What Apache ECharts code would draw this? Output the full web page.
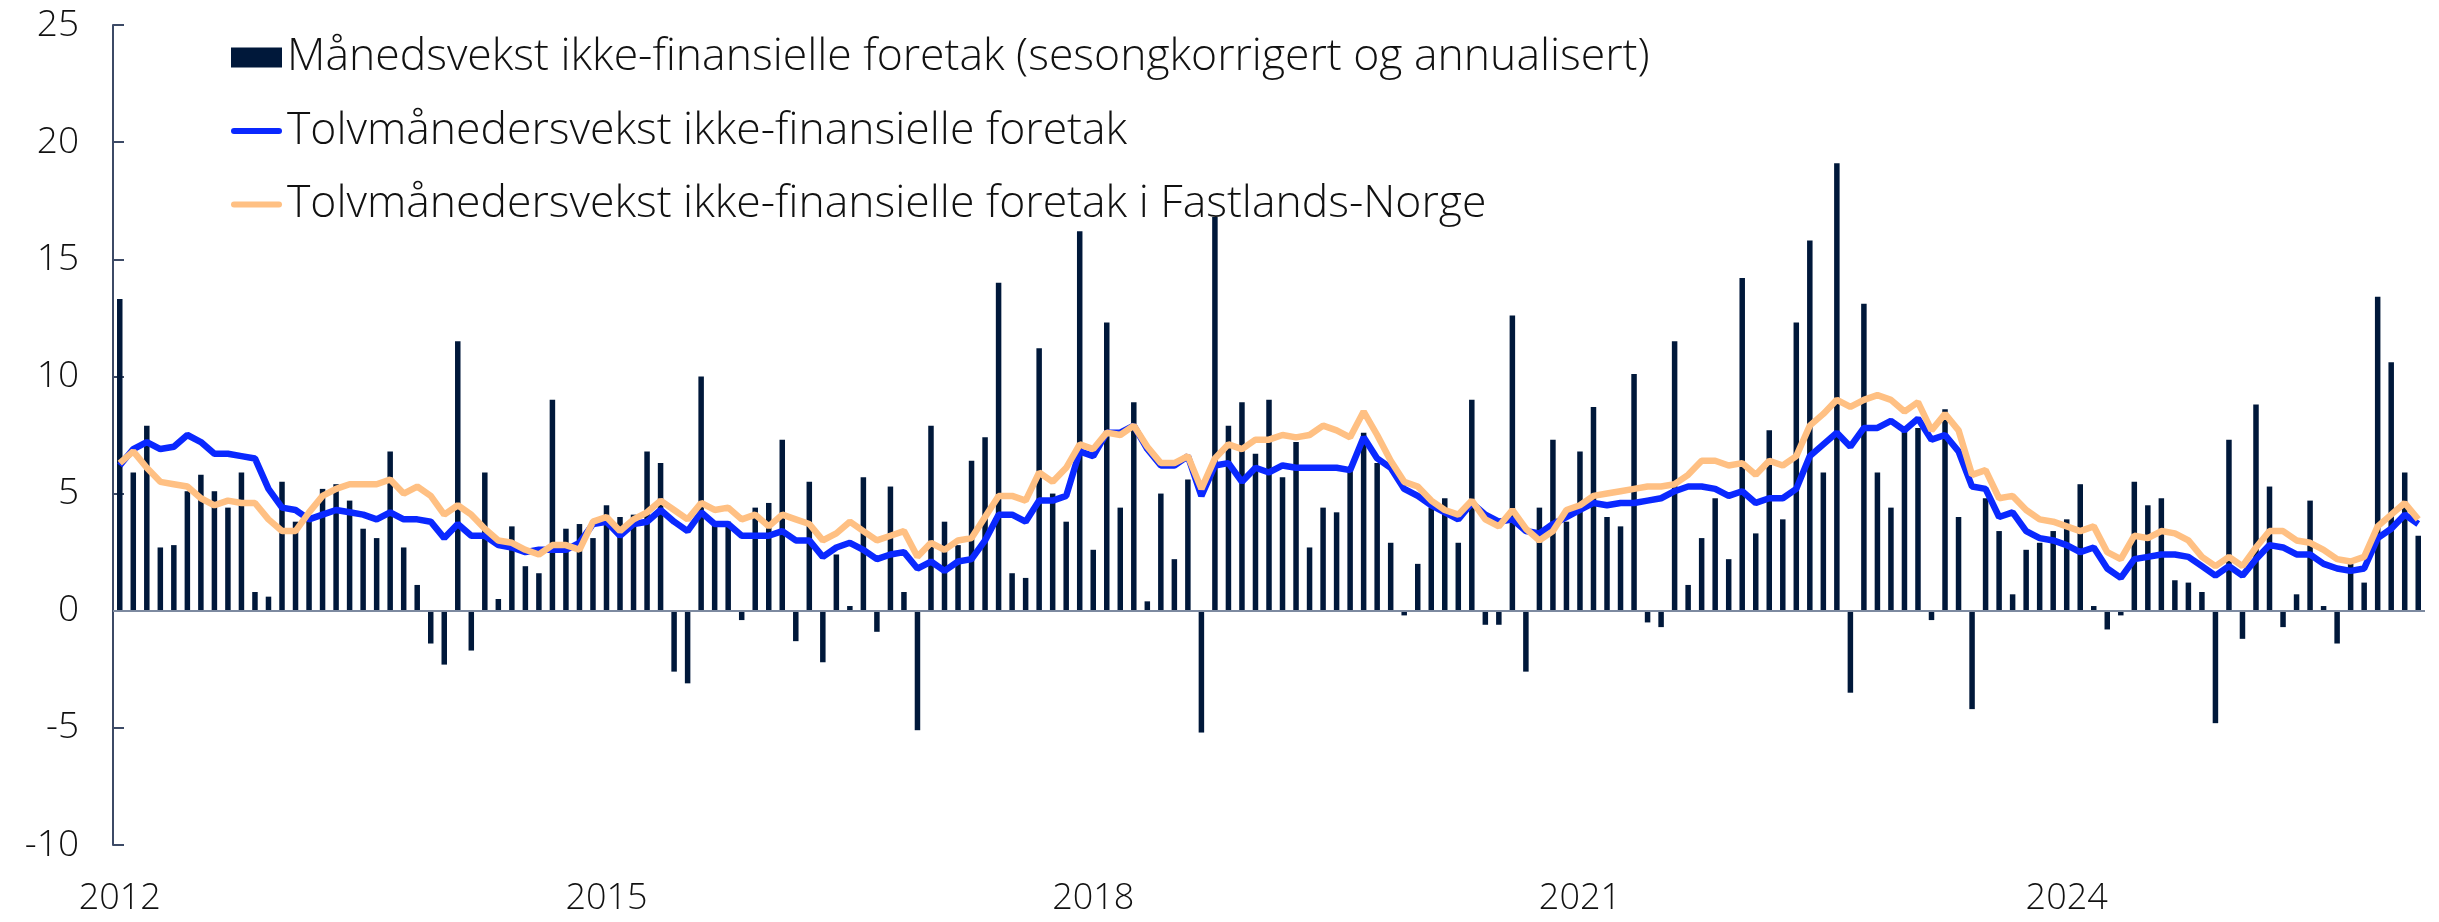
<!DOCTYPE html>
<html>
<head>
<meta charset="utf-8">
<script src="https://cdn.jsdelivr.net/npm/echarts@6/dist/echarts.min.js"></script>
<style>
  html, body { margin: 0; padding: 0; background: #fff; }
  #chart { width: 2439px; height: 922px; }
</style>
</head>
<body>
<div id="chart"></div>
<script>
// months 2012-01 .. 2026-03
const startYear = 2012;
const monthCount = 171;
const yearLabels = ['2012', '2015', '2018', '2021', '2024'];

const monthly = [
  13.3, 5.9, 7.9, 2.7, 2.8, 5.1, 5.8, 5.1, 4.4, 5.9, 0.8, 0.6, 5.5, 3.8, 4.0, 5.2, 5.4, 4.7, 3.5, 3.1, 6.8, 2.7, 1.1, -1.4, -2.3, 11.5, -1.7, 5.9, 0.5,
  3.6, 1.9, 1.6, 9.0, 3.5, 3.7, 3.1, 4.5, 4.0, 4.1, 6.8, 6.3, -2.6, -3.1, 10.0, 3.8, 3.8, -0.4, 4.4, 4.6, 7.3, -1.3, 5.5, -2.2, 2.4, 0.2, 5.7, -0.9,
  5.3, 0.8, -5.1, 7.9, 3.8, 2.8, 6.4, 7.4, 14.0, 1.6, 1.4, 11.2, 5.0, 3.8, 16.2, 2.6, 12.3, 4.4, 8.9, 0.4, 5.0, 2.2, 5.6, -5.2, 16.8, 7.9, 8.9, 6.7,
  9.0, 5.7, 7.2, 2.7, 4.4, 4.2, 6.0, 7.6, 6.3, 2.9, -0.2, 2.0, 4.4, 4.8, 2.9, 9.0, -0.6, -0.6, 12.6, -2.6, 4.4, 7.3, 3.8, 6.8, 8.7, 4.0, 3.6, 10.1,
  -0.5, -0.7, 11.5, 1.1, 3.1, 4.8, 2.2, 14.2, 3.3, 7.7, 3.9, 12.3, 15.8, 5.9, 19.1, -3.5, 13.1, 5.9, 4.4, 7.7, 7.8, -0.4, 8.6, 4.0, -4.2, 4.8, 3.4, 0.7,
  2.6, 2.9, 3.4, 3.9, 5.4, 0.2, -0.8, -0.2, 5.5, 4.5, 4.8, 1.3, 1.2, 0.8, -4.8, 7.3, -1.2, 8.8, 5.3, -0.7, 0.7, 4.7, 0.2, -1.4, 2.0, 1.2, 13.4, 10.6, 5.9, 3.2
];

const twelveMonth = [
  6.2, 6.9, 7.2, 6.9, 7.0, 7.5, 7.2, 6.7, 6.7, 6.6, 6.5, 5.2, 4.4, 4.3, 3.9, 4.1, 4.3, 4.2, 4.1, 3.9, 4.2, 3.9, 3.9, 3.8, 3.1, 3.7, 3.2, 3.2, 2.8,
  2.7, 2.5, 2.6, 2.6, 2.6, 2.9, 3.7, 3.8, 3.2, 3.7, 3.8, 4.3, 3.8, 3.4, 4.2, 3.7, 3.7, 3.2, 3.2, 3.2, 3.4, 3.0, 3.0, 2.3, 2.7, 2.9, 2.6, 2.2,
  2.4, 2.5, 1.8, 2.1, 1.7, 2.1, 2.2, 3.0, 4.1, 4.1, 3.8, 4.7, 4.7, 4.9, 6.8, 6.6, 7.6, 7.6, 7.9, 6.9, 6.2, 6.2, 6.6, 4.9, 6.2, 6.3, 5.5, 6.1,
  5.9, 6.2, 6.1, 6.1, 6.1, 6.1, 6.0, 7.4, 6.5, 6.1, 5.2, 4.9, 4.5, 4.2, 3.9, 4.6, 4.1, 3.8, 3.9, 3.4, 3.3, 3.7, 4.0, 4.3, 4.6, 4.5, 4.6, 4.6,
  4.7, 4.8, 5.1, 5.3, 5.3, 5.2, 4.9, 5.1, 4.6, 4.8, 4.8, 5.2, 6.6, 7.1, 7.6, 7.0, 7.8, 7.8, 8.1, 7.7, 8.2, 7.3, 7.5, 6.8, 5.3, 5.2, 4.0, 4.2,
  3.4, 3.1, 3.0, 2.8, 2.5, 2.7, 1.8, 1.4, 2.2, 2.3, 2.4, 2.4, 2.3, 1.9, 1.5, 1.9, 1.5, 2.2, 2.8, 2.7, 2.4, 2.4, 2.0, 1.8, 1.7, 1.8, 3.1, 3.5, 4.1, 3.7
];

const twelveMonthMainland = [
  6.3, 6.8, 6.1, 5.5, 5.4, 5.3, 4.8, 4.5, 4.7, 4.6, 4.6, 3.9, 3.4, 3.4, 4.2, 4.9, 5.2, 5.4, 5.4, 5.4, 5.6, 5.0, 5.3, 4.9, 4.1, 4.5, 4.1, 3.5, 3.0,
  2.9, 2.6, 2.4, 2.8, 2.8, 2.6, 3.8, 4.0, 3.4, 3.9, 4.2, 4.7, 4.3, 3.9, 4.6, 4.3, 4.4, 3.9, 4.1, 3.6, 4.1, 3.9, 3.7, 3.0, 3.3, 3.8, 3.4, 3.0,
  3.2, 3.4, 2.3, 2.9, 2.6, 3.0, 3.1, 4.0, 4.9, 4.9, 4.7, 5.9, 5.5, 6.1, 7.1, 6.9, 7.6, 7.5, 7.9, 7.0, 6.3, 6.3, 6.6, 5.2, 6.5, 7.1, 6.9, 7.3,
  7.3, 7.5, 7.4, 7.5, 7.9, 7.7, 7.4, 8.5, 7.5, 6.4, 5.5, 5.3, 4.7, 4.3, 4.1, 4.7, 3.9, 3.6, 4.3, 3.5, 3.0, 3.4, 4.3, 4.5, 4.9, 5.0, 5.1, 5.2,
  5.3, 5.3, 5.4, 5.8, 6.4, 6.4, 6.2, 6.3, 5.8, 6.4, 6.2, 6.6, 7.9, 8.4, 9.0, 8.7, 9.0, 9.2, 9.0, 8.5, 8.9, 7.7, 8.4, 7.7, 5.8, 6.0, 4.8, 4.9,
  4.3, 3.9, 3.8, 3.6, 3.4, 3.6, 2.5, 2.2, 3.2, 3.1, 3.4, 3.3, 3.0, 2.3, 1.9, 2.3, 1.9, 2.7, 3.4, 3.4, 3.0, 2.9, 2.6, 2.2, 2.1, 2.3, 3.6, 4.1, 4.6, 3.9
];

const months = [];
for (let i = 0; i < monthCount; i++) {
  const y = startYear + Math.floor(i / 12);
  const m = (i % 12) + 1;
  months.push(y + '-' + (m < 10 ? '0' + m : m));
}

const names = [
  'Månedsvekst ikke-finansielle foretak (sesongkorrigert og annualisert)',
  'Tolvmånedersvekst ikke-finansielle foretak',
  'Tolvmånedersvekst ikke-finansielle foretak i Fastlands-Norge'
];

const font = '"Open Sans", Lato, sans-serif';
// thick line with round ends for the legend
const lineIcon = 'path://M3,0 L48,0 A3,3 0 0 1 48,6 L3,6 A3,3 0 0 1 3,0 Z';

var dom = document.querySelector('#chart');
var myChart = echarts.init(dom, null, { renderer: 'canvas' });

const option = {
  animation: false,
  backgroundColor: '#fff',
  textStyle: { fontFamily: font, fontWeight: 300 },
  grid: { left: 113, right: 14, top: 25, bottom: 77 },
  legend: {
    orient: 'vertical',
    left: 226,
    top: 30,
    itemWidth: 51,
    itemHeight: 20,
    itemGap: 28.5,
    textStyle: { fontSize: 44.5, color: '#111', fontFamily: font, fontWeight: 300 },
    data: [
      { name: names[0], icon: 'rect' },
      { name: names[1], icon: lineIcon },
      { name: names[2], icon: lineIcon }
    ]
  },
  xAxis: {
    type: 'category',
    data: months,
    boundaryGap: true,
    axisLine: { show: false },
    axisTick: { show: false },
    axisLabel: {
      interval: (i) => i % 36 === 0,
      formatter: (v) => {
        const y = v.slice(0, 4);
        return yearLabels.indexOf(y) >= 0 ? y : '';
      },
      fontSize: 36,
      fontWeight: 300,
      color: '#111',
      margin: 36
    },
    splitLine: { show: false }
  },
  yAxis: {
    type: 'value',
    min: -10,
    max: 25,
    interval: 5,
    axisLine: { show: true, lineStyle: { color: '#3c4a66', width: 2 } },
    axisTick: { show: true, inside: true, length: 11, lineStyle: { color: '#3c4a66', width: 2 } },
    axisLabel: { fontSize: 37, fontWeight: 300, color: '#111', margin: 34 },
    splitLine: { show: false }
  },
  series: [
    {
      name: names[0],
      type: 'bar',
      data: monthly,
      barWidth: 5.5,
      itemStyle: { color: '#00183a' },
      markLine: {
        silent: true,
        symbol: 'none',
        label: { show: false },
        lineStyle: { color: '#7d8aa0', width: 2, type: 'solid' },
        data: [{ yAxis: 0 }]
      },
      z: 1
    },
    {
      name: names[1],
      type: 'line',
      data: twelveMonth,
      symbol: 'none',
      lineStyle: { color: '#0a28ff', width: 6.5 },
      itemStyle: { color: '#0a28ff' },
      z: 3
    },
    {
      name: names[2],
      type: 'line',
      data: twelveMonthMainland,
      symbol: 'none',
      lineStyle: { color: '#ffc083', width: 6.5 },
      itemStyle: { color: '#ffc083' },
      z: 4
    }
  ]
};
myChart.setOption(option);
</script>
</body>
</html>
